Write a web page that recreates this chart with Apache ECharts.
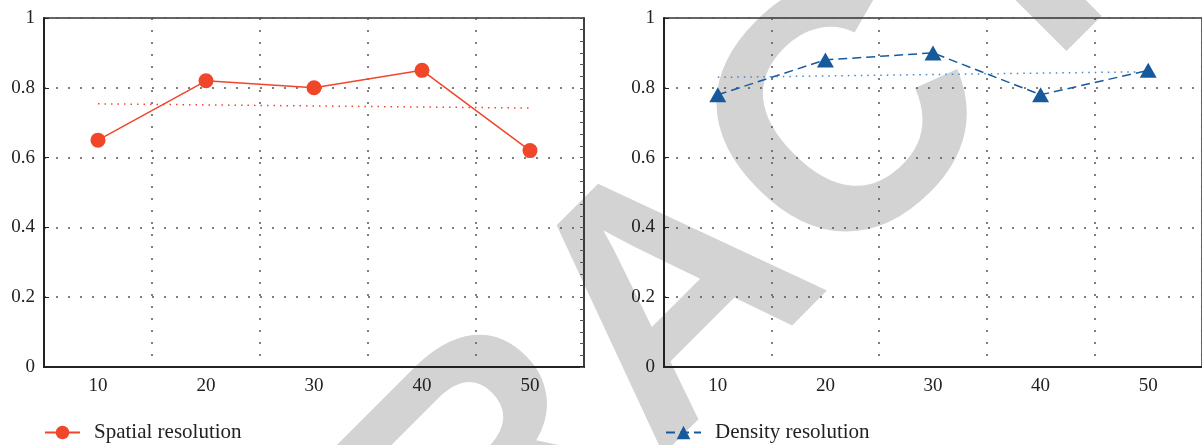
<!DOCTYPE html>
<html>
<head>
<meta charset="utf-8">
<script src="https://cdn.jsdelivr.net/npm/echarts@6/dist/echarts.min.js"></script>
<style>
  html, body { margin: 0; padding: 0; background: #fff; }
  #chart { width: 1202px; height: 445px; }
</style>
</head>
<body>
<div id="chart"></div>
<script>
const categories = ['10', '20', '30', '40', '50']
const spatial = [0.65, 0.82, 0.80, 0.85, 0.62]
const density = [0.78, 0.88, 0.90, 0.78, 0.85]
const spatialTrend = [0.754, null, null, null, 0.742]
const densityTrend = [0.830, null, null, null, 0.846]

const serif = 'Liberation Serif'
const red = '#f0462a'
const blue = '#175a9c'
const lightBlue = '#3f86d2'
const ink = '#222'

const chart = echarts.init(document.getElementById('chart'))

const grid = (left) => ({
  left: left, top: 18, width: 540, height: 349,
  show: true, borderColor: '#333', borderWidth: 1.5
})

const xAxis = (i) => ({
  type: 'category',
  gridIndex: i,
  data: categories,
  axisLine: { lineStyle: { color: ink, width: 2 } },
  axisTick: { show: false },
  axisLabel: { color: ink, fontFamily: serif, fontSize: 19, margin: 10 },
  splitLine: { show: true, lineStyle: { color: '#555', width: 1.5, type: [2, 10] } }
})

const yAxis = (i) => ({
  type: 'value',
  gridIndex: i,
  min: 0, max: 1, interval: 0.2,
  axisLine: { show: true, lineStyle: { color: ink, width: 2 } },
  axisTick: { show: true, inside: true, length: 5, lineStyle: { color: ink } },
  axisLabel: { color: ink, fontFamily: serif, fontSize: 19, margin: 9 },
  splitLine: { show: true, lineStyle: { color: '#555', width: 1.5, type: [2, 10] } }
})

const legend = (left, name) => ({
  left: left, top: 422,
  padding: 0,
  itemWidth: 35, itemHeight: 17,
  data: [name],
  textStyle: { color: ink, fontFamily: serif, fontSize: 21, padding: [0, 0, 0, 9] }
})

const option = {
  animation: false,
  graphic: {
    elements: [{
      type: 'text',
      z: -10,
      x: 678, y: 305,
      rotation: Math.PI / 4,
      style: {
        text: 'RETRACTED',
        fill: '#d3d3d3',
        font: 'bold 345px "Liberation Sans"',
        textAlign: 'center',
        textVerticalAlign: 'middle'
      }
    }]
  },
  grid: [grid(44), grid(664)],
  legend: [legend(44, 'Spatial resolution'), legend(665, 'Density resolution')],
  xAxis: [xAxis(0), xAxis(1)],
  yAxis: [
    yAxis(0),
    yAxis(1),
    {
      type: 'value', gridIndex: 0, position: 'right',
      min: 0, max: 1, interval: 0.2,
      axisLine: { show: true, lineStyle: { color: '#333', width: 1.5 } },
      axisTick: { show: true, inside: true, length: 4, lineStyle: { color: '#555' } },
      minorTick: { show: true, splitNumber: 6, length: 4, lineStyle: { color: '#555' } },
      axisLabel: { show: false },
      splitLine: { show: false }
    }
  ],
  series: [
    {
      name: 'Spatial resolution',
      type: 'line', xAxisIndex: 0, yAxisIndex: 0,
      data: spatial,
      symbol: 'circle', symbolSize: 15,
      lineStyle: { color: red, width: 1.5 },
      itemStyle: { color: red }
    },
    {
      name: 'Spatial trend',
      type: 'line', xAxisIndex: 0, yAxisIndex: 0,
      data: spatialTrend, connectNulls: true,
      symbol: 'none',
      lineStyle: { color: red, width: 1.5, type: [1.5, 5] }
    },
    {
      name: 'Density resolution',
      type: 'line', xAxisIndex: 1, yAxisIndex: 1,
      data: density,
      symbol: 'triangle', symbolSize: [17, 15],
      lineStyle: { color: blue, width: 1.5, type: [9, 5] },
      itemStyle: { color: blue }
    },
    {
      name: 'Density trend',
      type: 'line', xAxisIndex: 1, yAxisIndex: 1,
      data: densityTrend, connectNulls: true,
      symbol: 'none',
      lineStyle: { color: lightBlue, width: 1.5, type: [1.5, 5] }
    }
  ]
}

chart.setOption(option)
window.addEventListener('resize', () => chart.resize())
</script>
</body>
</html>
